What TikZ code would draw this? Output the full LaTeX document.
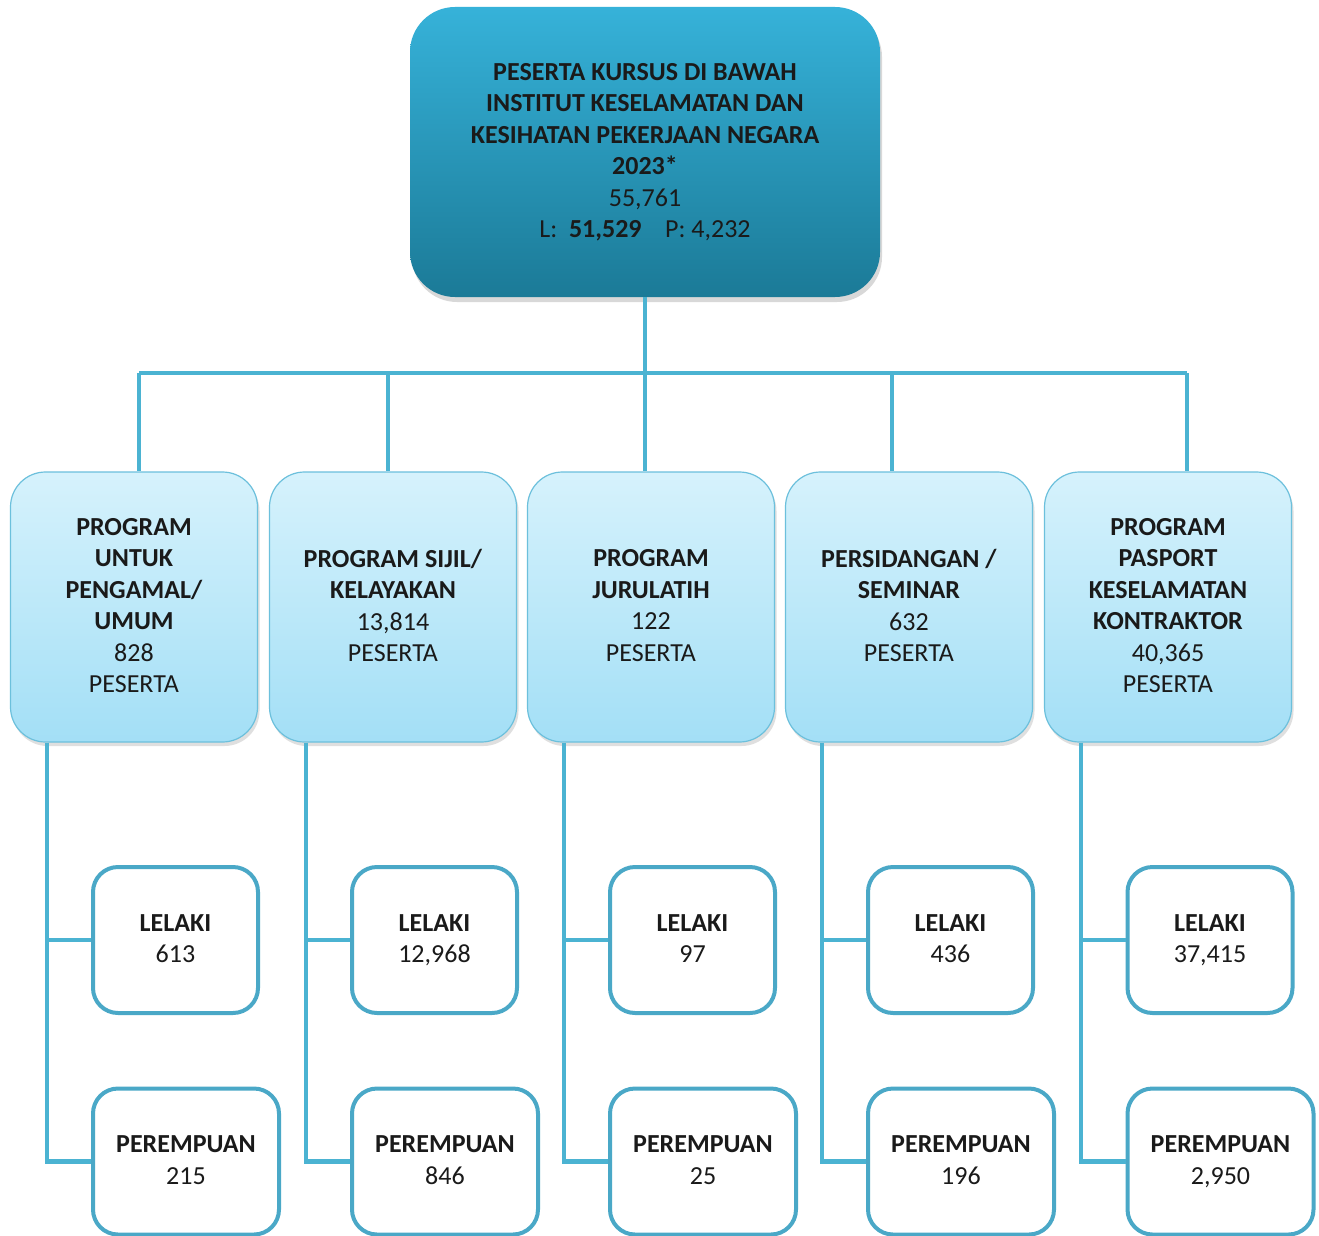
\documentclass[tikz,border=0pt]{standalone}
\usepackage{fontspec}
\setmainfont{Carlito}
\usetikzlibrary{shadows,calc}
\definecolor{linec}{HTML}{4BB3D2}
\definecolor{leafb}{HTML}{4AA8C7}
\definecolor{topt}{HTML}{36B2D9}
\definecolor{topb}{HTML}{1B7A97}
\definecolor{midt}{HTML}{D6F2FC}
\definecolor{midb}{HTML}{A3DFF6}
\definecolor{midline}{HTML}{6CC0DC}
\definecolor{txt}{HTML}{1A1A1A}
\tikzset{
  conn/.style={draw=linec, line width=4.5pt},
  struts/.style={execute at begin node={\rule{0pt}{32pt}}, execute at end node={\rule[-3pt]{0pt}{3pt}}},
  topbox/.style={rectangle, rounded corners=45pt, top color=topt, bottom color=topb,
    draw=none, minimum width=470pt, minimum height=290pt, align=center, text=txt,
    font=\fontsize{26}{31.5}\selectfont, struts,
    drop shadow={shadow xshift=2pt, shadow yshift=-5pt, opacity=0.3}},
  midbox/.style={rectangle, rounded corners=35pt, top color=midt, bottom color=midb,
    draw=midline, line width=1.2pt, minimum width=247pt, minimum height=270pt,
    align=center, text=txt, font=\fontsize{26}{31.5}\selectfont, struts,
    drop shadow={shadow xshift=2pt, shadow yshift=-4pt, opacity=0.25}},
  leafbox/.style={rectangle, rounded corners=25pt, fill=white, draw=leafb, line width=4pt,
    minimum height=146pt, align=center, text=txt, font=\fontsize{26}{31.5}\selectfont, struts},
}
\begin{document}
\begin{tikzpicture}[x=1pt,y=-1pt]
\useasboundingbox (0,0) rectangle (1319,1236);
\fill[white] (0,0) rectangle (1319,1236);

% top box
\node[topbox] (top) at (645,152) {\textbf{PESERTA KURSUS DI BAWAH}\\\textbf{INSTITUT KESELAMATAN DAN}\\\textbf{KESIHATAN PEKERJAAN NEGARA}\\\textbf{2023*}\\55,761\\L:\ \ \textbf{51,529}\ \ \ \ P: 4,232};

% middle boxes
\node[midbox] (m1) at (134,607) {\textbf{PROGRAM}\\\textbf{UNTUK}\\\textbf{PENGAMAL/}\\\textbf{UMUM}\\828\\PESERTA};
\node[midbox] (m2) at (393,607) {\textbf{PROGRAM SIJIL/}\\\textbf{KELAYAKAN}\\13,814\\PESERTA};
\node[midbox] (m3) at (651,607) {\textbf{PROGRAM}\\\textbf{JURULATIH}\\122\\PESERTA};
\node[midbox] (m4) at (909,607) {\textbf{PERSIDANGAN /}\\\textbf{SEMINAR}\\632\\PESERTA};
\node[midbox] (m5) at (1168,607) {\textbf{PROGRAM}\\\textbf{PASPORT}\\\textbf{KESELAMATAN}\\\textbf{KONTRAKTOR}\\40,365\\PESERTA};

% junction coordinates
\coordinate (bar) at (645,373);
\coordinate (j1) at (139,373);
\coordinate (j2) at (388,373);
\coordinate (j3) at (645,373);
\coordinate (j4) at (892,373);
\coordinate (j5) at (1187,373);

\draw[conn] (top.south) -- (bar);
\draw[conn] (j1) -- (j5);
\foreach \i in {1,...,5}{\draw[conn] (j\i) -- (j\i |- m\i.north);}

% leaf boxes
\node[leafbox, minimum width=165pt] (l1) at (175.5,940) {\textbf{LELAKI}\\613};
\node[leafbox, minimum width=186pt] (f1) at (186,1161.5) {\textbf{PEREMPUAN}\\215};
\node[leafbox, minimum width=165pt] (l2) at (434.5,940) {\textbf{LELAKI}\\12,968};
\node[leafbox, minimum width=186pt] (f2) at (445,1161.5) {\textbf{PEREMPUAN}\\846};
\node[leafbox, minimum width=165pt] (l3) at (692.5,940) {\textbf{LELAKI}\\97};
\node[leafbox, minimum width=186pt] (f3) at (703,1161.5) {\textbf{PEREMPUAN}\\25};
\node[leafbox, minimum width=165pt] (l4) at (950.5,940) {\textbf{LELAKI}\\436};
\node[leafbox, minimum width=186pt] (f4) at (961,1161.5) {\textbf{PEREMPUAN}\\196};
\node[leafbox, minimum width=165pt] (l5) at (1210,940) {\textbf{LELAKI}\\37,415};
\node[leafbox, minimum width=186pt] (f5) at (1220.5,1161.5) {\textbf{PEREMPUAN}\\2,950};

% spine coordinates
\coordinate (s1) at (47,742);
\coordinate (s2) at (306,742);
\coordinate (s3) at (564,742);
\coordinate (s4) at (822,742);
\coordinate (s5) at (1081,742);

\foreach \i in {1,...,5}{
  \draw[conn] (s\i |- m\i.south) -- (s\i |- f\i.west) -- (f\i.west);
  \draw[conn] (s\i |- l\i.west) -- (l\i.west);
}
\end{tikzpicture}
\end{document}
